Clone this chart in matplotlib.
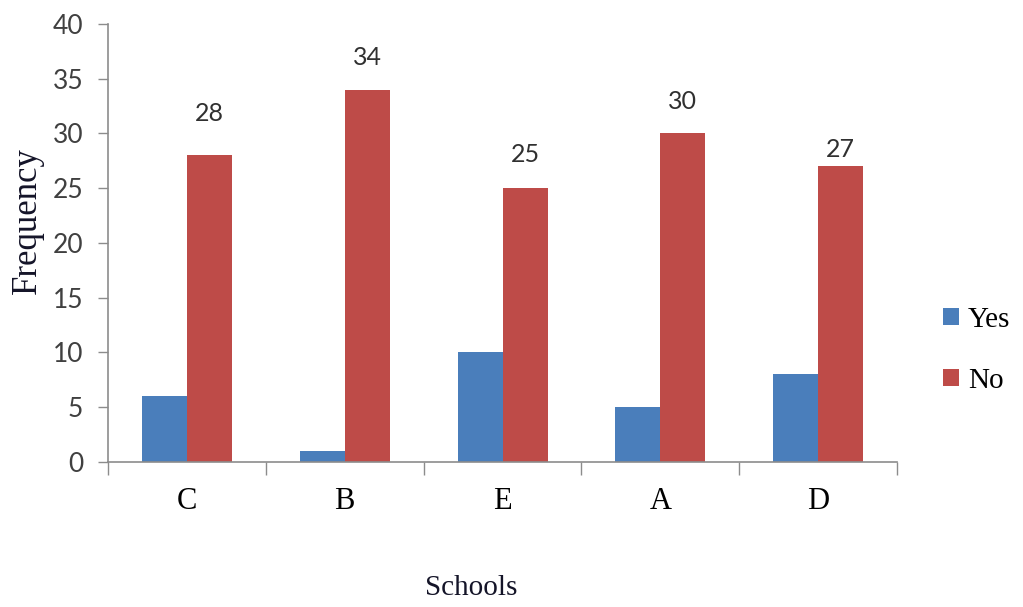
import numpy as np
import matplotlib
matplotlib.use("Agg")
import matplotlib.pyplot as plt

## data
schools = ["C", "B", "E", "A", "D"]
yes_vals = [6, 1, 10, 5, 8]
no_vals = [28, 34, 25, 30, 27]
# gap between top of the red bar and its label (points)
label_dy = [30, 23, 24, 23, 12]

blue = "#4a7ebb"
red = "#be4b48"
axis_grey = "#8c8c8c"
ink = "#141428"

fig = plt.figure(figsize=(10.23, 6.07), dpi=100)
ax = fig.add_axes([0.1056, 0.2389, 0.7713, 0.7216])

x = np.arange(len(schools))
w = 0.285
ax.bar(x - w/2, yes_vals, w, color=blue, label="Yes")
bars_no = ax.bar(x + w/2, no_vals, w, color=red, label="No")

## value labels on the "No" bars
for b, v, dy in zip(bars_no, no_vals, label_dy):
    ax.annotate(str(v), (b.get_x() + b.get_width()/2, v), xytext=(0, dy),
                textcoords="offset points", ha="center", va="center",
                fontsize=18, family="Lato", color="#303030")

ax.set_xlim(-0.5, len(schools) - 0.5)
ax.set_ylim(0, 40)
ax.set_yticks(np.arange(0, 41, 5))
ax.tick_params(axis="y", labelsize=19, colors=axis_grey, length=7, width=1,
               labelcolor="#404040", pad=11)
for t in ax.get_yticklabels():
    t.set_family("Lato")

ax.set_xticks(x)
ax.set_xticklabels(schools, family="Liberation Serif", fontsize=22, color="black")
ax.tick_params(axis="x", which="major", length=0, pad=18)
ax.set_xticks(np.arange(-0.5, len(schools), 1.0), minor=True)
ax.tick_params(axis="x", which="minor", length=9, width=1, colors=axis_grey)

for s in ["top", "right"]:
    ax.spines[s].set_visible(False)
for s in ["left", "bottom"]:
    ax.spines[s].set_color(axis_grey)
    ax.spines[s].set_linewidth(1.2)

fig.text(0.027, 0.637, "Frequency", rotation=90, ha="center", va="center",
         family="Liberation Serif", fontsize=25, color=ink)
fig.text(0.461, 0.031, "Schools", ha="center", va="center",
         family="Liberation Serif", fontsize=21, color=ink)

leg = ax.legend(loc="center left", bbox_to_anchor=(1.025, 0.255), frameon=False,
                prop={"family": "Liberation Serif", "size": 21},
                handlelength=0.55, handleheight=0.55, handletextpad=0.3,
                labelspacing=1.2)

fig.savefig("out.png", dpi=100)
